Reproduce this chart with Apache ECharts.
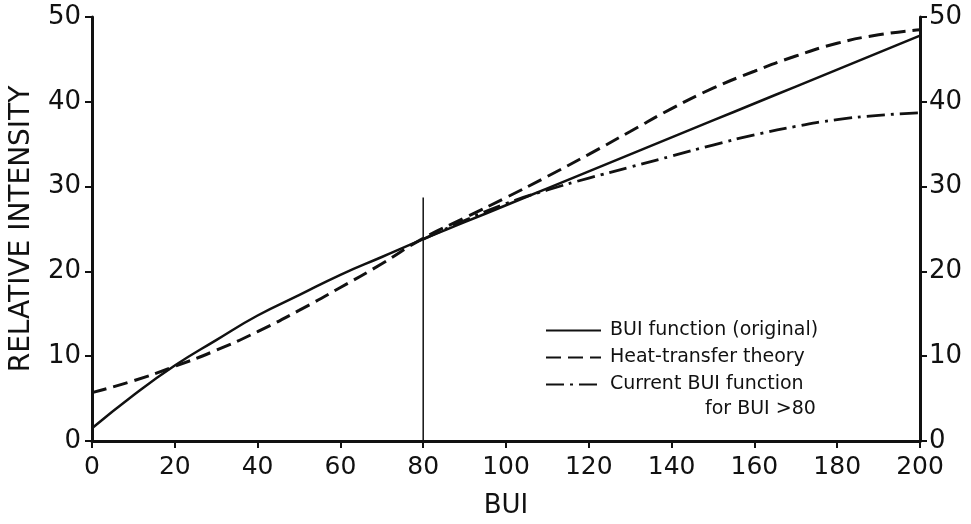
<!DOCTYPE html>
<html>
<head>
<meta charset="utf-8">
<script src="https://cdn.jsdelivr.net/npm/echarts@6/dist/echarts.min.js"></script>
<style>
  html, body { margin: 0; padding: 0; background: #fff; }
  #chart { width: 971px; height: 524px; }
</style>
</head>
<body>
<div id="chart"></div>
<script>
    // BUI values (x) and relative intensity (y)
    var buiAll = [0, 10, 20, 30, 40, 50, 60, 70, 80, 90, 100, 110, 120, 130, 140, 150, 160, 170, 180, 190, 200];
    var buiOriginal = [1.5, 5.4, 8.9, 11.9, 14.8, 17.2, 19.6, 21.7, 23.8, 25.8, 27.8, 29.8, 31.8, 33.8, 35.8, 37.8, 39.8, 41.8, 43.8, 45.8, 47.8];
    var heatTransfer = [5.7, 7.1, 8.8, 10.7, 12.9, 15.4, 18.1, 20.9, 23.9, 26.3, 28.7, 31.2, 33.8, 36.5, 39.2, 41.6, 43.6, 45.4, 46.9, 47.9, 48.5];
    var buiCurrent = [80, 90, 100, 110, 120, 130, 140, 150, 160, 170, 180, 190, 200];
    var currentFn = [23.8, 26.0, 28.0, 29.6, 31.0, 32.3, 33.6, 34.9, 36.1, 37.1, 37.9, 38.4, 38.7];
    var cutoffLine = [[80, 0], [80, 28.7]];

    function pairs(xs, ys) {
        var out = [];
        for (var i = 0; i < ys.length; i++) out.push([xs[i], ys[i]]);
        return out;
    }

    var font = "'DejaVu Sans', sans-serif";
    var ink = '#111';

    var chart = echarts.init(document.getElementById('chart'));

    var yAxisBase = {
        type: 'value',
        min: 0,
        max: 50,
        interval: 10,
        splitLine: { show: false },
        axisLine: { show: true, lineStyle: { color: ink, width: 3 } },
        axisTick: { show: true, length: 7, lineStyle: { color: ink, width: 2 } },
        axisLabel: { color: ink, fontSize: 26, fontFamily: font }
    };

    option = {
        backgroundColor: '#fff',
        animation: false,
        grid: { left: 91, right: 51, top: 17, bottom: 83 },
        legend: {
            orient: 'vertical',
            left: 540,
            top: 316,
            itemWidth: 55,
            itemHeight: 20,
            itemGap: 8,
            itemStyle: { opacity: 0 },
            data: ['BUI function (original)', 'Heat-transfer theory', 'Current BUI function'],
            textStyle: { color: ink, fontSize: 19, fontFamily: font, padding: [0, 0, 0, 4] }
        },
        graphic: [{
            type: 'text',
            left: 705,
            top: 400,
            style: { text: 'for BUI >80', fill: ink, font: '19px ' + font }
        }],
        xAxis: {
            type: 'value',
            min: 0,
            max: 200,
            interval: 20,
            name: 'BUI',
            nameLocation: 'middle',
            nameGap: 52,
            nameTextStyle: { color: ink, fontSize: 26, fontFamily: font },
            splitLine: { show: false },
            axisLine: { lineStyle: { color: ink, width: 3 } },
            axisTick: { length: 7, lineStyle: { color: ink, width: 2 } },
            axisLabel: { color: ink, fontSize: 25, fontFamily: font, margin: 14 }
        },
        yAxis: [
            Object.assign({}, yAxisBase, {
                position: 'left',
                name: 'RELATIVE INTENSITY',
                nameLocation: 'middle',
                nameGap: 56,
                nameTextStyle: { color: ink, fontSize: 28, fontFamily: font },
                axisLabel: { color: ink, fontSize: 26, fontFamily: font, margin: 11 }
            }),
            Object.assign({}, yAxisBase, {
                position: 'right',
                axisLabel: { color: ink, fontSize: 26, fontFamily: font, margin: 9 }
            })
        ],
        series: [{
            name: 'BUI function (original)',
            type: 'line',
            smooth: true,
            symbol: 'none',
            data: pairs(buiAll, buiOriginal),
            lineStyle: { color: ink, width: 2.5, type: 'solid' },
            itemStyle: { color: ink }
        }, {
            name: 'Heat-transfer theory',
            type: 'line',
            smooth: true,
            symbol: 'none',
            data: pairs(buiAll, heatTransfer),
            lineStyle: { color: ink, width: 3, type: [15, 7] },
            itemStyle: { color: ink }
        }, {
            name: 'Current BUI function',
            type: 'line',
            smooth: true,
            symbol: 'none',
            data: pairs(buiCurrent, currentFn),
            lineStyle: { color: ink, width: 2.8, type: [18, 6, 3, 6] },
            itemStyle: { color: ink }
        }, {
            name: 'cutoff',
            type: 'line',
            symbol: 'none',
            data: cutoffLine,
            lineStyle: { color: ink, width: 1.5 },
            silent: true
        }]
    };

    chart.setOption(option);
</script>
</body>
</html>
